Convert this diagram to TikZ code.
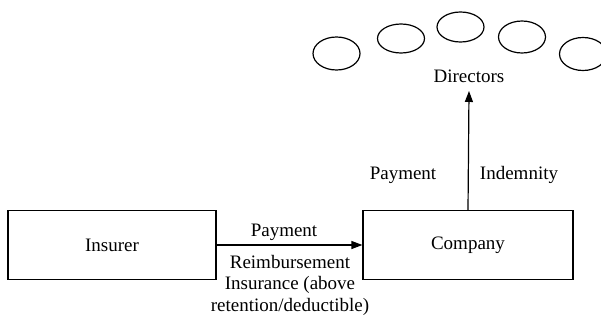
\documentclass[tikz,border=0pt]{standalone}
\usepackage{fontspec}
\setmainfont{Liberation Serif}
\usetikzlibrary{arrows.meta}
\begin{document}
\begin{tikzpicture}[x=1pt,y=-1pt,line width=1.2pt,
    font=\fontsize{19}{21.5}\selectfont,
    party/.style={draw,rectangle,minimum height=69pt},
    flow/.style={-{Triangle[length=11pt,width=8pt]}}]

        \useasboundingbox (0,0) rectangle (601,321);

        % the board
        \begin{scope}
            \clip (0,0) rectangle (601,321);
            \foreach \cx/\cy/\ry in {336.5/53.5/16.5, 401/38.5/14.5, 460.5/27/15, 522/37/16, 583/54/16.5}
                \draw (\cx,\cy) ellipse [x radius=23.5, y radius=\ry];
        \end{scope}
        \node[inner sep=0pt] (directors) at (469,76) {Directors};

        \node[party,minimum width=208pt] (insurer) at (112,245) {Insurer};
        \node[party,minimum width=210pt] (company) at (468,245) {Company};

        \draw[flow] (insurer) -- (company);
        \draw[flow] (company.north) -- ([yshift=-8pt]directors.south);

        \node (paytop) at (284,232) {Payment};
        \node[align=center] (reimb) at (290,285) {Reimbursement\\Insurance (above\\retention/deductible)};
        \node (payup) at (403,175) {Payment};
        \node (indem) at (519,175) {Indemnity};
    \end{tikzpicture}
\end{document}
